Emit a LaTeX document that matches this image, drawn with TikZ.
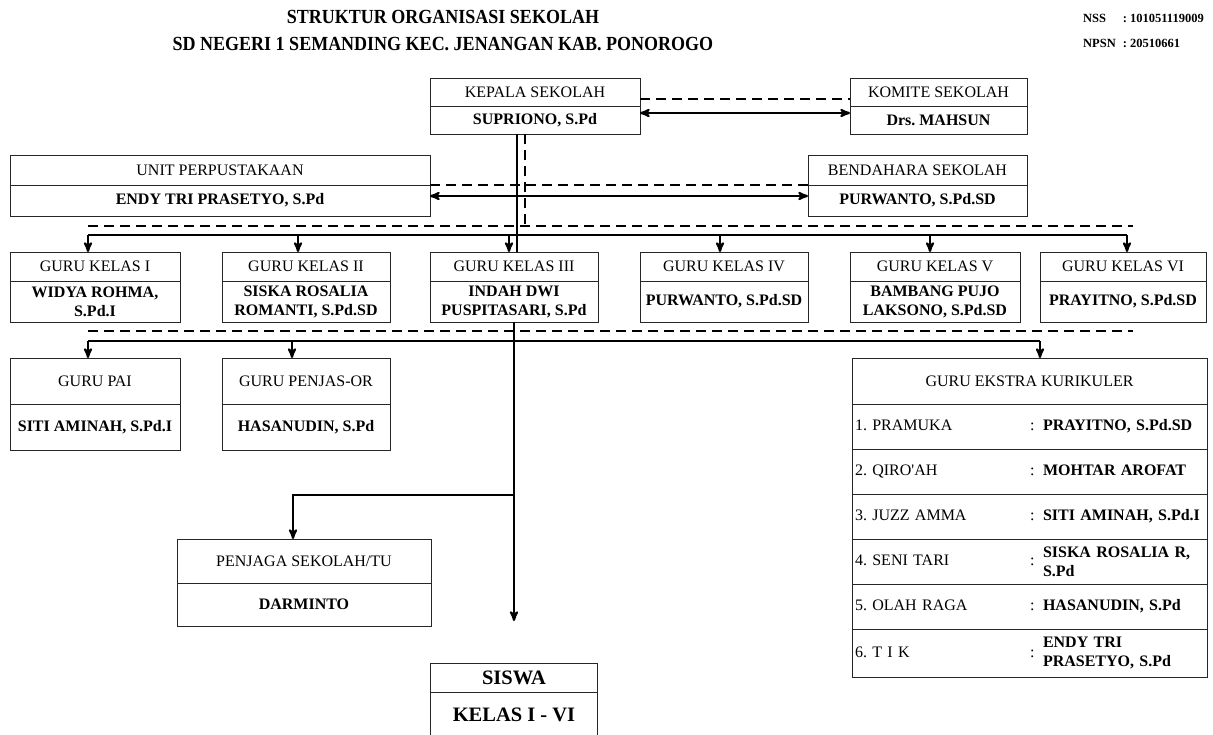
\documentclass[tikz,border=0pt]{standalone}
\usepackage{fontspec}
\setmainfont{Liberation Serif}
\usetikzlibrary{arrows,positioning}

\begin{document}
\frenchspacing
\begin{tikzpicture}[x=1pt,y=-1pt,>=stealth',
    jabatan/.style={draw=black!85, line width=0.8pt, outer sep=0pt, inner sep=1pt,
      minimum height=28pt, font=\fontsize{16}{19}\selectfont},
    pejabat/.style={jabatan, font=\fontsize{16}{19}\selectfont\bfseries, align=center},
    baris/.style={jabatan, minimum width=355pt, minimum height=45pt,
      text width=349pt, inner xsep=3pt, align=left},
    garis/.style={line width=2.2pt},
    putus/.style={line width=2.6pt, dash pattern=on 10pt off 6pt}]

  \useasboundingbox (0,0) rectangle (1213,734);
  \clip (0,0) rectangle (1213,734);

  % judul
  \node[font=\fontsize{20}{24}\selectfont\bfseries] (judul1) at (443,17) {\scalebox{0.9}[1]{STRUKTUR ORGANISASI SEKOLAH}};
  \node[font=\fontsize{20}{24}\selectfont\bfseries] (judul2) at (443,44) {\scalebox{0.9}[1]{SD NEGERI 1 SEMANDING KEC. JENANGAN KAB. PONOROGO}};
  \node[anchor=west, inner sep=0pt, font=\fontsize{12.5}{15}\selectfont\bfseries] (nomor) at (1083,32)
    {\begin{tabular}{@{}l@{\hspace{7pt}}l@{}} NSS & : 101051119009\\[10pt] NPSN & : 20510661\end{tabular}};

  % pimpinan
  \node[jabatan, minimum width=210pt] (kepala) at (535,92) {KEPALA SEKOLAH};
  \node[pejabat, minimum width=210pt, below=0pt of kepala] (kepalaN) {SUPRIONO, S.Pd};
  \node[jabatan, minimum width=177pt] (komite) at (938.5,92) {KOMITE SEKOLAH};
  \node[pejabat, minimum width=177pt, below=0pt of komite] (komiteN) {Drs. MAHSUN};

  \node[jabatan, minimum width=420pt, minimum height=30pt] (unit) at (220,170) {UNIT PERPUSTAKAAN};
  \node[pejabat, minimum width=420pt, minimum height=31pt, below=0pt of unit] (unitN) {ENDY TRI PRASETYO, S.Pd};
  \node[jabatan, minimum width=219pt, minimum height=30pt] (bendahara) at (917.5,170) {BENDAHARA SEKOLAH};
  \node[pejabat, minimum width=219pt, minimum height=31pt, below=0pt of bendahara] (bendaharaN) {PURWANTO, S.Pd.SD};

  % guru kelas
  \node[jabatan, minimum width=170pt, minimum height=29pt] (guruI) at (95,266.5) {GURU KELAS I};
  \node[pejabat, minimum width=170pt, minimum height=41pt, below=0pt of guruI] (guruIN) {WIDYA ROHMA,\\ S.Pd.I};
  \node[jabatan, minimum width=168pt, minimum height=29pt] (guruII) at (306,266.5) {GURU KELAS II};
  \node[pejabat, minimum width=168pt, minimum height=41pt, below=0pt of guruII] (guruIIN) {SISKA ROSALIA\\ ROMANTI, S.Pd.SD};
  \node[jabatan, minimum width=168pt, minimum height=29pt] (guruIII) at (514,266.5) {GURU KELAS III};
  \node[pejabat, minimum width=168pt, minimum height=41pt, below=0pt of guruIII] (guruIIIN) {INDAH DWI\\ PUSPITASARI, S.Pd};
  \node[jabatan, minimum width=168pt, minimum height=29pt] (guruIV) at (724,266.5) {GURU KELAS IV};
  \node[pejabat, minimum width=168pt, minimum height=41pt, below=0pt of guruIV] (guruIVN) {PURWANTO, S.Pd.SD};
  \node[jabatan, minimum width=170pt, minimum height=29pt] (guruV) at (935,266.5) {GURU KELAS V};
  \node[pejabat, minimum width=170pt, minimum height=41pt, below=0pt of guruV] (guruVN) {BAMBANG PUJO\\ LAKSONO, S.Pd.SD};
  \node[jabatan, minimum width=166pt, minimum height=29pt] (guruVI) at (1123,266.5) {GURU KELAS VI};
  \node[pejabat, minimum width=166pt, minimum height=41pt, below=0pt of guruVI] (guruVIN) {PRAYITNO, S.Pd.SD};

  % guru mapel
  \node[jabatan, minimum width=170pt, minimum height=46pt] (pai) at (95,381) {GURU PAI};
  \node[pejabat, minimum width=170pt, minimum height=46pt, below=0pt of pai] (paiN) {SITI AMINAH, S.Pd.I};
  \node[jabatan, minimum width=168pt, minimum height=46pt] (penjas) at (306,381) {GURU PENJAS-OR};
  \node[pejabat, minimum width=168pt, minimum height=46pt, below=0pt of penjas] (penjasN) {HASANUDIN, S.Pd};

  % ekstra kurikuler
  \node[jabatan, minimum width=355pt, minimum height=46pt] (ekstra) at (1029.5,381) {GURU EKSTRA KURIKULER};
  \node[baris, below=0pt of ekstra] (pramuka)
    {\makebox[175pt][l]{1. PRAMUKA}\makebox[13pt][l]{:}\textbf{PRAYITNO, S.Pd.SD}};
  \node[baris, below=0pt of pramuka] (qiroah)
    {\makebox[175pt][l]{2. QIRO\textquotesingle AH}\makebox[13pt][l]{:}\textbf{MOHTAR AROFAT}};
  \node[baris, below=0pt of qiroah] (juzz)
    {\makebox[175pt][l]{3. JUZZ AMMA}\makebox[13pt][l]{:}\textbf{SITI AMINAH, S.Pd.I}};
  \node[baris, below=0pt of juzz] (tari)
    {\makebox[175pt][l]{4. SENI TARI}\makebox[13pt][l]{:}\parbox[c]{158pt}{\raggedright\bfseries SISKA ROSALIA R,\\ S.Pd}};
  \node[baris, below=0pt of tari] (raga)
    {\makebox[175pt][l]{5. OLAH RAGA}\makebox[13pt][l]{:}\textbf{HASANUDIN, S.Pd}};
  \node[baris, minimum height=48pt, below=0pt of raga] (tik)
    {\makebox[175pt][l]{6. T I K}\makebox[13pt][l]{:}\parbox[c]{158pt}{\raggedright\bfseries ENDY TRI\\ PRASETYO, S.Pd}};

  % penjaga dan siswa
  \node[jabatan, minimum width=254pt, minimum height=44pt] (penjaga) at (304,561) {PENJAGA SEKOLAH/TU};
  \node[pejabat, minimum width=254pt, minimum height=43pt, below=0pt of penjaga] (penjagaN) {DARMINTO};
  \node[pejabat, minimum width=167pt, minimum height=29pt, font=\fontsize{20.5}{24}\selectfont\bfseries] (siswa) at (514,677.5) {SISWA};
  \node[pejabat, minimum width=167pt, minimum height=46pt, font=\fontsize{20.5}{24}\selectfont\bfseries, below=0pt of siswa] (siswaN) {KELAS I - VI};

  % titik bantu garis
  \coordinate (garisKetua) at ([xshift=-18pt]kepalaN.south);
  \coordinate (putusKetua) at ([xshift=-10pt]kepalaN.south);
  \coordinate (putusA) at (88,226);
  \coordinate (putusB) at (1133,226);
  \coordinate (busA) at (88,235);
  \coordinate (busB) at (1127,235);
  \coordinate (putusC) at (88,331);
  \coordinate (putusD) at (1133,331);
  \coordinate (busC) at (88,341);
  \coordinate (busD) at (1040,341);
  \coordinate (cabang) at (514,495);

  % garis koordinasi
  \draw[putus] ([yshift=-7pt]kepala.east) -- ([yshift=-7pt]komite.west);
  \draw[garis,<->] ([yshift=7pt]kepalaN.east) -- ([yshift=7pt]komiteN.west);
  \draw[putus] (unit.south east) -- (bendahara.south west);
  \draw[garis,<->] ([yshift=4.5pt]unitN.east) -- ([yshift=4.5pt]bendaharaN.west);

  % garis komando
  \draw[garis] (garisKetua) -- (garisKetua |- guruIII.north);
  \draw[putus] (putusKetua) -- (putusKetua |- putusA);
  \draw[putus] (putusA) -- (putusB);
  \draw[garis] (busA) -- (busB);
  \draw[garis,<-] ([xshift=-7pt]guruI.north) -- ++(0,-17);
  \draw[garis,<-] ([xshift=-8pt]guruII.north) -- ++(0,-17);
  \draw[garis,<-] ([xshift=-5pt]guruIII.north) -- ++(0,-17);
  \draw[garis,<-] ([xshift=-4pt]guruIV.north) -- ++(0,-17);
  \draw[garis,<-] ([xshift=-5pt]guruV.north) -- ++(0,-17);
  \draw[garis,<-] ([xshift=4pt]guruVI.north) -- ++(0,-17);

  \draw[putus] (putusC) -- (putusD);
  \draw[garis] (busC) -- (busD);
  \draw[garis,<-] ([xshift=-7pt]pai.north) -- ++(0,-17);
  \draw[garis,<-] ([xshift=-14pt]penjas.north) -- ++(0,-17);
  \draw[garis,<-] ([xshift=10.5pt]ekstra.north) -- ++(0,-17);

  \draw[garis,->] (guruIIIN.south) -- ([yshift=42pt]siswa.north);
  \draw[garis,->] (cabang) -| ([xshift=-11pt]penjaga.north);

\end{tikzpicture}
\end{document}
